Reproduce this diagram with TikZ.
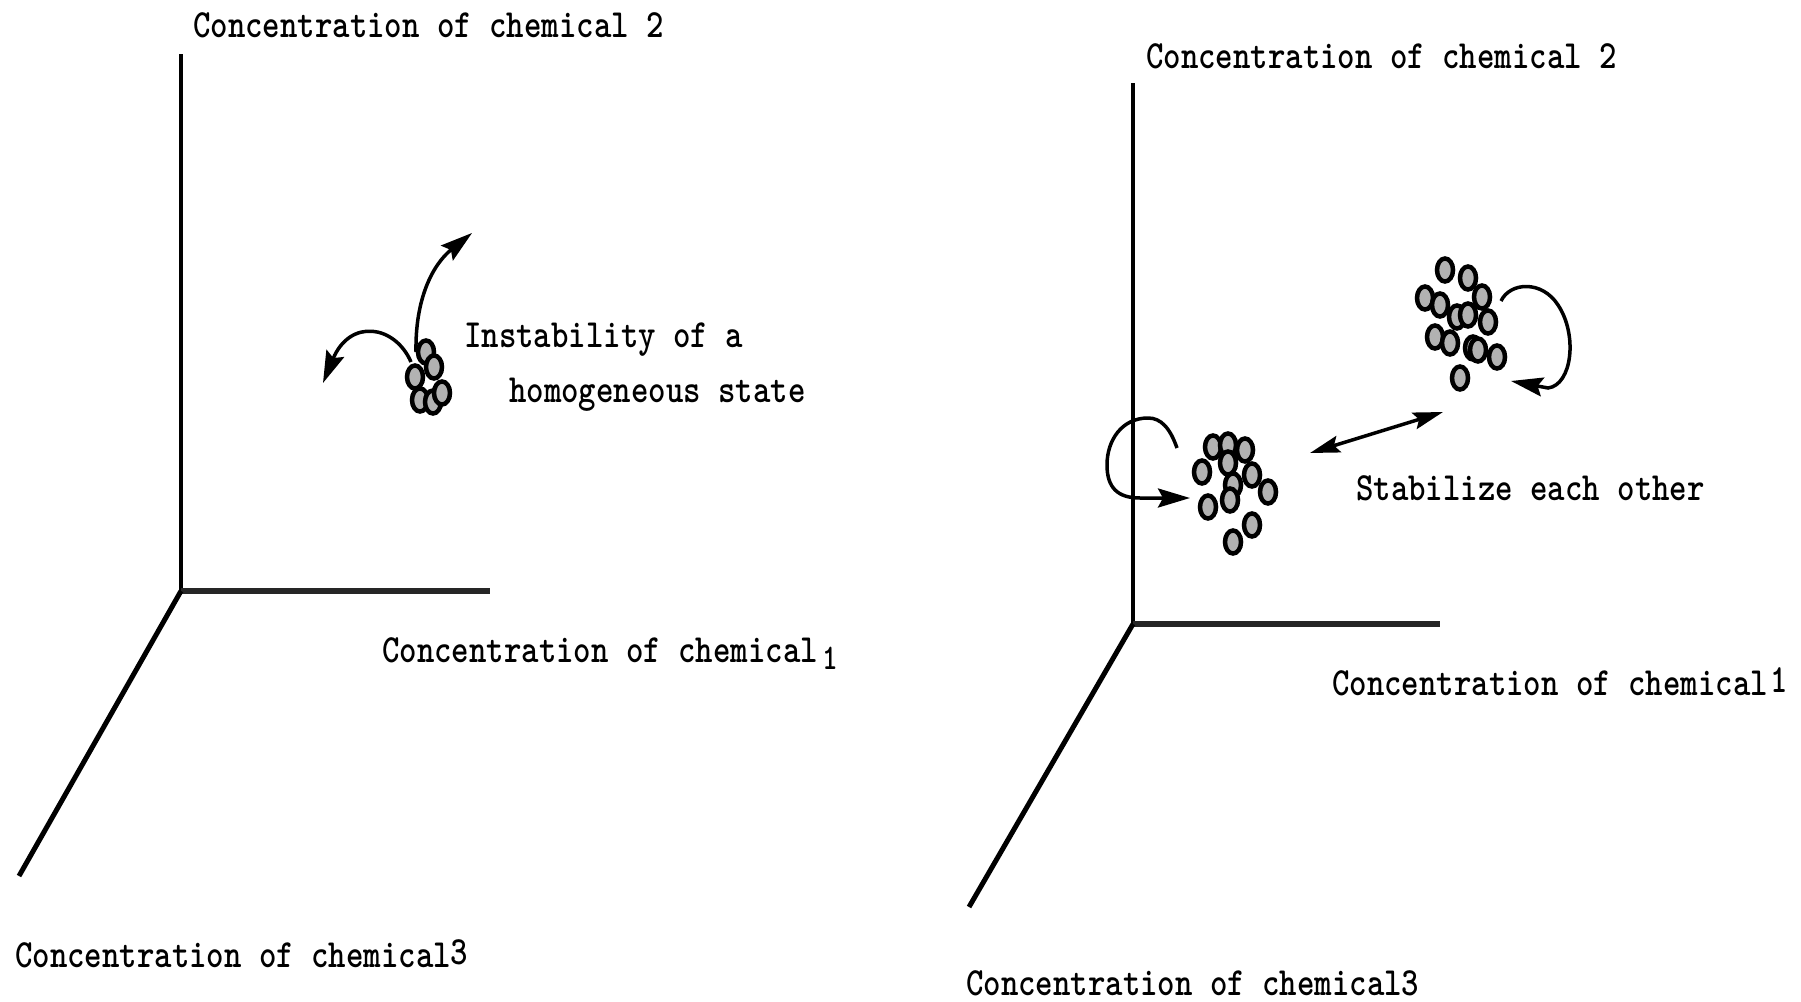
\documentclass[tikz,border=0pt]{standalone}
\usepackage{graphicx}
\usetikzlibrary{arrows.meta,shapes.geometric}
\newcommand\tw[1]{\scalebox{0.83}[1]{#1}}
\tikzset{
  lbl/.style={anchor=base west, inner sep=0pt, font=\fontsize{40}{44}\selectfont\ttfamily\bfseries},
  axisv/.style={line width=4pt},
  axish/.style={line width=6pt, color=black!85},
  axisd/.style={line width=5pt},
  dot/.style={ellipse, draw=black, line width=4.5pt, fill=black!30, minimum width=16pt, minimum height=23pt, inner sep=0pt},
  arr/.style={line width=3.5pt, -{Stealth[length=32pt,width=19pt,inset=5pt]}},
  darr/.style={line width=3.5pt, {Stealth[length=30pt,width=17pt,inset=5pt]}-{Stealth[length=30pt,width=17pt,inset=5pt]}}
}
\begin{document}
\begin{tikzpicture}[x=1pt,y=-1pt]
\useasboundingbox (0,0) rectangle (1801,1001);
\fill[white] (0,0) rectangle (1801,1001);
% ---------- left panel axes
\coordinate (LO) at (181,591);
\coordinate (LY) at (181,54);
\coordinate (LX) at (490,591);
\coordinate (LZ) at (19,876);
\draw[axisv] (LY) -- (LO);
\draw[axish] (LO) -- (LX);
\draw[axisd] (LO) -- (LZ);
% ---------- right panel axes
\coordinate (RO) at (1133,624);
\coordinate (RY) at (1133,83);
\coordinate (RX) at (1440,624);
\coordinate (RZ) at (969,907);
\draw[axisv] (RY) -- (RO);
\draw[axish] (RO) -- (RX);
\draw[axisd] (RO) -- (RZ);
% ---------- labels
\node[lbl] (tL2) at (193,37) {\tw{Concentration of chemical 2}};
\node[lbl] (tL1) at (382,662) {\tw{Concentration of chemical}};
\node[lbl, font=\fontsize{36}{40}\selectfont\ttfamily\bfseries] (tL1s) at (822,669) {\tw{1}};
\node[lbl] (tL3) at (15,967) {\tw{Concentration of chemical\raisebox{3pt}{3}}};
\node[lbl] (tIn) at (464,347) {\tw{Instability of a}};
\node[lbl] (tHo) at (509,402) {\tw{homogeneous state}};
\node[lbl] (tR2) at (1146,68) {\tw{Concentration of chemical 2}};
\node[lbl] (tR1) at (1332,695) {\tw{Concentration of chemical\kern3pt\raisebox{3pt}{1}}};
\node[lbl] (tR3) at (966,995) {\tw{Concentration of chemical3}};
\node[lbl] (tSt) at (1356,500) {\tw{Stabilize each other}};
% ---------- left cluster and arrows
\coordinate (ua0) at (416,352);
\coordinate (ua1) at (472,233);
\coordinate (la0) at (411,362);
\coordinate (la1) at (323,383);
\draw[arr] (ua0) .. controls (415,300) and (432,265) .. (ua1);
\draw[arr] (la0) .. controls (395,325) and (350,318) .. (la1);
\foreach \x/\y [count=\i] in {426/352,434/367,415/377,420/400,433/402,442/393}
  \node[dot] (a\i) at (\x,\y) {};
% ---------- right lower cluster
\foreach \x/\y [count=\i] in {1213/447,1228/445,1245/450,1202/472,1228/463,1252/475,1233/485,1268/492,1208/507,1230/500,1252/525,1233/542}
  \node[dot] (b\i) at (\x,\y) {};
% ---------- right upper cluster
\foreach \x/\y [count=\i] in {1445/270,1468/278,1425/298,1440/305,1482/297,1457/317,1468/315,1488/322,1435/337,1450/343,1473/348,1478/350,1497/357,1460/378}
  \node[dot] (c\i) at (\x,\y) {};
% ---------- circular arrows
\coordinate (ca0) at (1177,448);
\coordinate (ca1) at (1190,498);
\draw[arr] (ca0) .. controls (1170,428) and (1161,418) .. (1148,418)
  .. controls (1122,418) and (1107,440) .. (1107,465)
  .. controls (1107,488) and (1118,498) .. (1140,498) -- (ca1);
\coordinate (cb0) at (1501,301);
\coordinate (cb1) at (1511,381);
\draw[arr] (cb0) .. controls (1510,282) and (1542,280) .. (1558,305)
  .. controls (1578,335) and (1572,385) .. (1548,388) -- (cb1);
% ---------- double arrow
\coordinate (d0) at (1310,453);
\coordinate (d1) at (1443,412);
\draw[darr] (d0) -- (d1);
\end{tikzpicture}
\end{document}
